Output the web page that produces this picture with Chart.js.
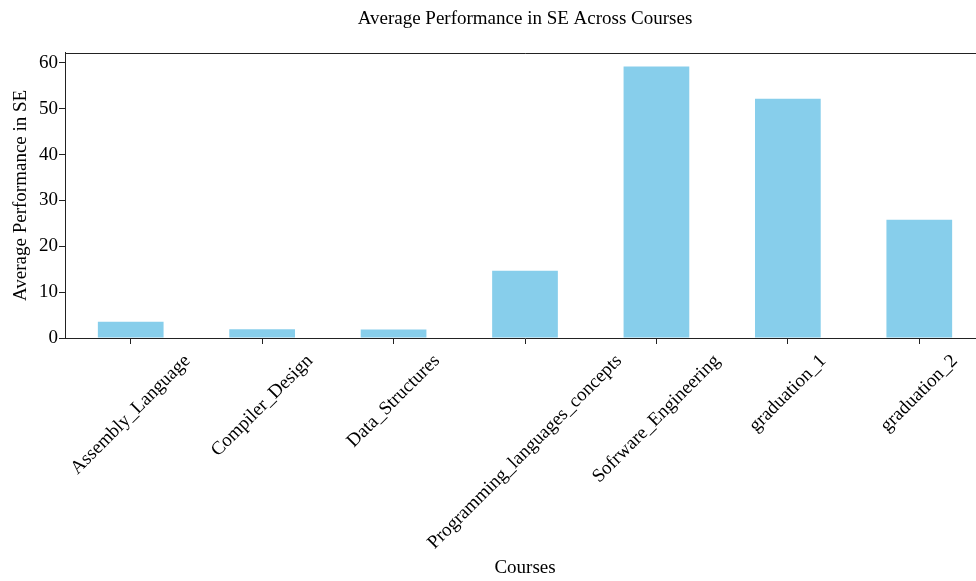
<!DOCTYPE html>
<html><head><meta charset="utf-8">
<script src="https://cdn.jsdelivr.net/npm/chart.js@4.4.0/dist/chart.umd.min.js"></script>
<style>html,body{margin:0;padding:0;background:#fff;overflow:hidden}#wrap{width:976px;height:581px;overflow:hidden}canvas{display:block}</style>
</head><body><div id="wrap"><canvas id="c" width="986" height="581"></canvas></div>
<script>
const courses = ['Assembly_Language','Compiler_Design','Data_Structures','Programming_languages_concepts','Sofrware_Engineering','graduation_1','graduation_2'];
const avgPerformance = [3.55, 1.9, 1.85, 14.65, 59.26, 52.2, 25.8];
const yTicks = [0, 10, 20, 30, 40, 50, 60];

const FONT = 'Liberation Serif';
const AXIS_COLOR = '#222';

const xLabelPlugin = {
  id: 'xLabels',
  afterDraw(chart) {
    const xs = chart.scales.x, ctx = chart.ctx, area = chart.chartArea;
    ctx.save();
    ctx.font = "19px '" + FONT + "'";
    ctx.fillStyle = '#000';
    ctx.textAlign = 'center';
    ctx.textBaseline = 'middle';
    const top = area.bottom + 14;
    courses.forEach((lab, i) => {
      const x = xs.getPixelForTick(i);
      const w = ctx.measureText(lab).width;
      const half = (w + 17) * Math.SQRT1_2 / 2;
      ctx.save();
      ctx.translate(x, top + half);
      ctx.rotate(-Math.PI / 4);
      ctx.fillText(lab, 0, 0);
      ctx.restore();
    });
    ctx.restore();
  }
};

const framePlugin = {
  id: 'frame',
  afterLayout(chart) {
    const t = chart.titleBlock;
    if (t) { t.left = chart.chartArea.left; t.right = chart.chartArea.right; t.width = t.right - t.left; }
  },
  afterDraw(chart) {
    const a = chart.chartArea, ctx = chart.ctx;
    ctx.save();
    ctx.strokeStyle = AXIS_COLOR;
    ctx.lineWidth = 1;
    ctx.beginPath();
    ctx.moveTo(Math.round(a.left) + 0.5, Math.round(a.top) + 0.5);
    ctx.lineTo(a.right, Math.round(a.top) + 0.5);
    ctx.lineTo(a.right, a.bottom);
    ctx.stroke();
    ctx.restore();
  }
};

new Chart(document.getElementById('c'), {
  type: 'bar',
  data: {
    labels: courses,
    datasets: [{
      data: avgPerformance,
      backgroundColor: '#87CEEB',
      borderWidth: 0,
      categoryPercentage: 0.5,
      barPercentage: 1.0
    }]
  },
  options: {
    responsive: false,
    animation: false,
    devicePixelRatio: 1,
    layout: { padding: { left: 0, right: 1, top: 0, bottom: 0 } },
    plugins: {
      legend: { display: false },
      tooltip: { enabled: false },
      title: {
        display: true,
        text: 'Average Performance in SE Across Courses',
        color: '#000',
        font: { family: FONT, size: 19, weight: 'normal' },
        padding: { top: 8, bottom: 22 }
      }
    },
    scales: {
      x: {
        type: 'category',
        offset: true,
        grid: { offset: false, drawOnChartArea: false, drawTicks: true, tickLength: 6, color: AXIS_COLOR, lineWidth: 1 },
        border: { display: true, color: AXIS_COLOR, width: 1 },
        ticks: { display: false },
        title: {
          display: true, text: 'Courses', color: '#000',
          font: { family: FONT, size: 19, weight: 'normal' },
          padding: { top: 0, bottom: 2 }
        },
        afterFit(s) { s.height = 243; }
      },
      y: {
        min: 0,
        max: Math.max(...avgPerformance) * 1.05,
        afterBuildTicks(s) { s.ticks = yTicks.map(v => ({ value: v })); },
        ticks: { color: '#000', font: { family: FONT, size: 19 }, padding: 1 },
        grid: { drawOnChartArea: false, drawTicks: true, tickLength: 6, color: AXIS_COLOR, lineWidth: 1 },
        border: { display: true, color: AXIS_COLOR, width: 1 },
        title: {
          display: true, text: 'Average Performance in SE', color: '#000',
          font: { family: FONT, size: 19, weight: 'normal' },
          padding: { top: 10, bottom: 0 }
        },
        afterFit(s) { s.width = 65; }
      }
    }
  },
  plugins: [framePlugin, xLabelPlugin]
});
</script>
</body></html>
